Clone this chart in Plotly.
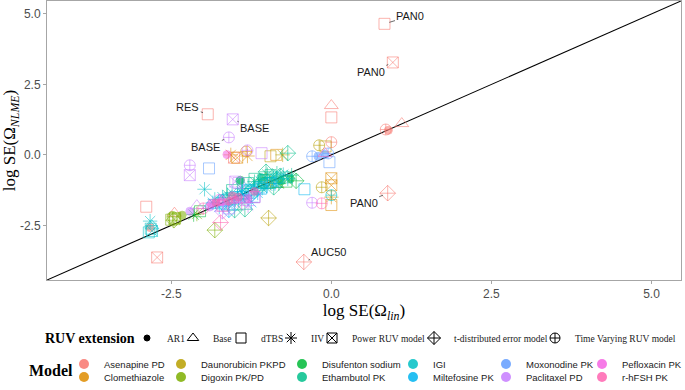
import plotly.graph_objects as go

# ---------------- data ----------------
models = ["Asenapine PD", "Clomethiazole", "Daunorubicin PKPD", "Digoxin PK/PD",
          "Disufenton sodium", "Ethambutol PK", "IGI", "Miltefosine PK",
          "Moxonodine PK", "Paclitaxel PD", "Pefloxacin PK", "r-hFSH PK"]
model_colors = ["#F8766D", "#DE8C00", "#B79F00", "#7CAE00", "#00BA38", "#00C08B",
                "#00BFC4", "#00B4F0", "#619CFF", "#C77CFF", "#F564E3", "#FF64B0"]
ruv_types = ["AR1", "Base", "dTBS", "IIV", "Power RUV model",
             "t-distributed error model", "Time Varying RUV model"]

# (RUV extension, log SE(Omega_lin), log SE(Omega_NLME))
asenapine_pd = [("dTBS", 0.83, 4.65), ("dTBS", -1.93, 1.44), ("dTBS", -2.89, -1.84), ("dTBS", 0.0, 1.33),
                ("Power RUV model", 0.96, 3.28), ("Power RUV model", -2.72, -3.64),
                ("Power RUV model", -1.52, -0.10),
                ("t-distributed error model", 0.88, -1.36), ("t-distributed error model", -0.43, -3.80),
                ("Base", 1.10, 1.11), ("Base", 0.0, 1.75), ("Base", -2.45, -2.07),
                ("Time Varying RUV model", 0.85, 0.90), ("Time Varying RUV model", 0.0, 0.45),
                ("AR1", 0.89, 0.87), ("AR1", -2.83, -2.58)]
clomethiazole = [("IIV", -1.57, 0.0), ("IIV", 0.0, -1.50), ("IIV", -1.31, -0.04),
                 ("Power RUV model", 0.0, -0.83), ("Power RUV model", 0.0, -1.08),
                 ("Power RUV model", -1.47, -0.10),
                 ("dTBS", 0.0, -1.78), ("dTBS", -0.86, 0.0),
                 ("Time Varying RUV model", -1.33, 0.12), ("Time Varying RUV model", -1.05, -1.00)]
daunorubicin_pkpd = [("Time Varying RUV model", -0.19, 0.34), ("Time Varying RUV model", -0.15, -1.15),
                     ("dTBS", -0.09, 0.30), ("dTBS", -0.95, -0.05),
                     ("IIV", -0.76, 0.0), ("IIV", -0.95, -1.00),
                     ("t-distributed error model", -0.98, -2.24), ("t-distributed error model", -1.02, -0.90),
                     ("Base", -0.85, -1.05)]
digoxin_pkpd = [("AR1", -2.33, -2.14), ("dTBS", -2.50, -2.30), ("dTBS", -2.44, -2.24),
                ("t-distributed error model", -1.82, -2.67), ("t-distributed error model", -2.46, -2.32),
                ("Time Varying RUV model", -2.48, -2.20), ("IIV", -2.10, -2.10),
                ("Power RUV model", -2.45, -2.28)]
disufenton_sodium = [("AR1", -0.64, -0.85), ("AR1", -1.42, -0.90), ("AR1", -0.78, -0.92),
                     ("dTBS", -2.05, -2.00), ("dTBS", -0.70, -0.95), ("dTBS", -1.00, -1.00),
                     ("IIV", -2.15, -2.12), ("IIV", -0.82, -1.02),
                     ("t-distributed error model", -0.55, -0.92)]
ethambutol_pk = [("t-distributed error model", -0.68, 0.06), ("t-distributed error model", -1.35, -1.93),
                 ("t-distributed error model", -1.51, -1.96), ("t-distributed error model", -0.80, -0.75),
                 ("t-distributed error model", -1.02, -0.60), ("t-distributed error model", -0.90, -1.15),
                 ("dTBS", -1.20, -0.85), ("dTBS", -1.05, -0.90), ("dTBS", -0.95, -0.72),
                 ("dTBS", -1.30, -1.00), ("dTBS", -0.85, -0.95), ("dTBS", -0.70, -0.80),
                 ("dTBS", -1.12, -1.08), ("dTBS", -1.55, -1.25),
                 ("IIV", -1.20, -0.95), ("IIV", -1.00, -0.70), ("IIV", -0.85, -0.65), ("IIV", -1.40, -1.20),
                 ("IIV", -1.62, -1.42), ("IIV", -0.62, -0.72),
                 ("AR1", -1.10, -0.80), ("AR1", -1.43, -0.92),
                 ("Time Varying RUV model", -1.05, -1.02), ("Base", -1.15, -1.05)]
igi = [("IIV", -1.98, -1.22), ("IIV", -1.70, -1.50), ("IIV", -1.55, -1.35), ("IIV", -1.40, -1.30),
       ("IIV", -1.30, -1.10), ("IIV", -1.20, -1.20), ("IIV", -1.10, -0.95), ("IIV", -1.00, -0.85),
       ("IIV", -0.90, -0.80), ("IIV", -0.75, -0.70), ("IIV", -1.50, -1.60), ("IIV", -1.35, -1.45),
       ("IIV", -2.83, -2.35), ("IIV", -1.82, -1.58), ("IIV", -1.08, -1.18), ("IIV", -0.68, -0.85),
       ("dTBS", -2.85, -2.75), ("dTBS", -2.82, -2.62), ("dTBS", -1.60, -1.55), ("dTBS", -1.25, -1.30),
       ("dTBS", -0.95, -1.00), ("dTBS", -1.72, -1.72),
       ("Time Varying RUV model", 0.0, -1.43), ("Time Varying RUV model", -1.45, -1.55),
       ("Base", -2.80, -2.52), ("Base", -1.70, -1.60),
       ("t-distributed error model", -1.15, -1.20), ("t-distributed error model", -0.85, -0.85),
       ("Power RUV model", -2.80, -2.70), ("Power RUV model", -1.38, -1.38)]
miltefosine_pk = [("IIV", -1.85, -1.70), ("IIV", -1.60, -1.75), ("IIV", -1.45, -1.60), ("IIV", -1.30, -1.55),
                  ("IIV", -1.15, -1.35), ("IIV", -1.00, -1.10), ("IIV", -1.75, -1.85),
                  ("IIV", -1.25, -1.68), ("IIV", -0.88, -1.02),
                  ("dTBS", -0.42, -1.22), ("dTBS", -1.50, -1.50), ("dTBS", -1.30, -1.25), ("dTBS", -1.10, -1.20),
                  ("dTBS", -1.68, -1.62),
                  ("t-distributed error model", -1.60, -1.95), ("t-distributed error model", -1.25, -1.40),
                  ("Base", -1.90, -1.80), ("Time Varying RUV model", -1.40, -1.45)]
moxonodine_pk = [("dTBS", -1.91, -0.48), ("dTBS", -0.03, -0.26), ("dTBS", -1.20, -1.50),
                 ("AR1", -0.21, -0.05), ("AR1", -0.10, 0.02),
                 ("Time Varying RUV model", -0.30, -0.05), ("Time Varying RUV model", -0.05, 0.05),
                 ("IIV", -1.60, -1.80)]
paclitaxel_pd = [("Power RUV model", -1.54, 1.26), ("Power RUV model", -2.21, -0.72),
                 ("Power RUV model", -1.50, -0.95),
                 ("Time Varying RUV model", -1.60, 0.62), ("Time Varying RUV model", -2.21, -0.37),
                 ("Time Varying RUV model", -1.31, 0.16), ("Time Varying RUV model", -0.30, -1.70),
                 ("dTBS", -1.09, 0.06), ("dTBS", -1.45, -1.00), ("dTBS", -1.60, -1.90),
                 ("AR1", -2.21, -2.00), ("AR1", -1.90, -1.85),
                 ("Base", -2.10, -1.80), ("Base", -1.35, -1.60),
                 ("IIV", -1.30, -1.80), ("t-distributed error model", -1.70, -2.00)]
pefloxacin_pk = [("AR1", -1.63, 0.01), ("AR1", -1.87, -1.72), ("AR1", -1.50, -1.60), ("AR1", -1.30, -1.55),
                 ("AR1", -1.72, -1.66),
                 ("Base", -1.70, -1.65), ("Time Varying RUV model", -1.75, -1.60),
                 ("IIV", -1.40, -1.70), ("dTBS", -1.20, -1.50)]
rhfsh_pk = [("t-distributed error model", -1.73, -2.40),
            ("AR1", -1.80, -1.70), ("AR1", -1.60, -1.65), ("AR1", -1.45, -1.50), ("AR1", -1.20, -1.30),
            ("AR1", -1.55, -1.45),
            ("Time Varying RUV model", -0.15, -1.72), ("Time Varying RUV model", -2.00, -1.90),
            ("dTBS", -1.70, -1.80), ("Base", -0.10, 0.05)]

model_points = [asenapine_pd, clomethiazole, daunorubicin_pkpd, digoxin_pkpd, disufenton_sodium,
                ethambutol_pk, igi, miltefosine_pk, moxonodine_pk, paclitaxel_pd, pefloxacin_pk, rhfsh_pk]

# identity line y = x across the axis range
identity_line = [-4.44, 5.46]

# labelled points
label_text = ["PAN0", "PAN0", "PAN0", "RES", "BASE", "BASE", "AUC50"]
label_x = [0.83, 0.96, 0.88, -1.93, -1.54, -1.60, -0.43]
label_y = [4.65, 3.28, -1.36, 1.44, 1.26, 0.62, -3.80]

x_ticks = [-2.5, 0.0, 2.5, 5.0]
y_ticks = [-2.5, 0.0, 2.5, 5.0]

# ---------------- style ----------------
W, H = 685, 390
ML, MR, MT, MB = 47, 4, 1, 110
PW, PH = W - ML - MR, H - MT - MB

symbols = {"AR1": "circle", "Base": "triangle-up-open", "dTBS": "square-open", "IIV": "asterisk-open",
           "Power RUV model": "square-x-open", "t-distributed error model": "diamond-cross-open",
           "Time Varying RUV model": "circle-cross-open"}
sizes = {"AR1": 8, "Base": 12, "dTBS": 11, "IIV": 12, "Power RUV model": 11,
         "t-distributed error model": 12, "Time Varying RUV model": 11}
legend_sizes = {"AR1": 6, "Base": 10, "dTBS": 10, "IIV": 10, "Power RUV model": 10,
                "t-distributed error model": 10, "Time Varying RUV model": 10}

def px_to_paper_x(px):
    return (px - ML) / PW

def px_to_paper_y(py):
    return (H - MB - py) / PH

fig = go.Figure()

# identity line
fig.add_trace(go.Scatter(x=identity_line, y=identity_line, mode="lines",
                         line=dict(color="black", width=1.1), showlegend=False, hoverinfo="skip"))

# data points
for name, color, pts in zip(models, model_colors, model_points):
    for ruv in ruv_types:
        sel = [p for p in pts if p[0] == ruv]
        if not sel:
            continue
        fig.add_trace(go.Scatter(
            x=[p[1] for p in sel], y=[p[2] for p in sel], mode="markers",
            marker=dict(symbol=symbols[ruv], size=sizes[ruv], color=color, opacity=0.55,
                        line=dict(width=1, color=color)),
            name=name, showlegend=False))

# plotly draws a legend symbol ~20px right of the legend's left edge
SYM_OFFSET = 20

# RUV legend entries (one legend each, laid out in a row)
ruv_sym_px = [147, 193, 241, 291, 332, 434, 555]
legend_layouts = {}
n_leg = 1
for ruv, sx in zip(ruv_types, ruv_sym_px):
    key = "legend" if n_leg == 1 else f"legend{n_leg}"
    fig.add_trace(go.Scatter(x=[None], y=[None], mode="markers", name=ruv, legend=key,
                             marker=dict(symbol=symbols[ruv], size=legend_sizes[ruv],
                                         color="black", line=dict(width=1, color="black"))))
    legend_layouts[key] = dict(x=px_to_paper_x(sx - SYM_OFFSET), xanchor="left", y=px_to_paper_y(338),
                               yanchor="middle", bgcolor="rgba(0,0,0,0)",
                               font=dict(family="Liberation Serif", size=9.5, color="#1a1a1a"))
    n_leg += 1

# Model legend entries (2 rows x 6 columns)
model_col_px = [84, 181, 302, 413, 506, 602]
model_row_px = [364, 377]
for i, (name, color) in enumerate(zip(models, model_colors)):
    key = f"legend{n_leg}"
    col, row = i // 2, i % 2
    fig.add_trace(go.Scatter(x=[None], y=[None], mode="markers", name=name, legend=key,
                             marker=dict(symbol="circle", size=10, color=color, opacity=0.85)))
    legend_layouts[key] = dict(x=px_to_paper_x(model_col_px[col] - SYM_OFFSET), xanchor="left",
                               y=px_to_paper_y(model_row_px[row]), yanchor="middle",
                               bgcolor="rgba(0,0,0,0)",
                               font=dict(family="Liberation Sans", size=9.5, color="#1a1a1a"))
    n_leg += 1

# labels with leader lines
label_offsets = [(26, -8), (-22, 10), (-24, 10), (-20, -7), (22, 9), (-23, 10), (25, -10)]
annotations = []
for t, x, y, (ax, ay) in zip(label_text, label_x, label_y, label_offsets):
    annotations.append(dict(x=x, y=y, text=t, showarrow=True, arrowhead=0, arrowwidth=0.8,
                            arrowcolor="#444444", ax=ax, ay=ay, standoff=5,
                            font=dict(family="Liberation Sans", size=11, color="#1a1a1a")))

# legend titles
annotations.append(dict(x=px_to_paper_x(43), y=px_to_paper_y(338), xref="paper", yref="paper",
                        xanchor="left", yanchor="middle", showarrow=False, text="<b>RUV extension</b>",
                        font=dict(family="Liberation Serif", size=14, color="black")))
annotations.append(dict(x=px_to_paper_x(27), y=px_to_paper_y(370), xref="paper", yref="paper",
                        xanchor="left", yanchor="middle", showarrow=False, text="<b>Model</b>",
                        font=dict(family="Liberation Serif", size=16, color="black")))

axis_common = dict(showgrid=False, zeroline=False, showline=True, mirror=True, linecolor="#a6a6a6",
                   linewidth=1, ticks="outside", ticklen=3, tickcolor="#a6a6a6",
                   tickfont=dict(family="Liberation Sans", size=12, color="#4d4d4d"))

fig.update_layout(
    width=W, height=H, margin=dict(l=ML, r=MR, t=MT, b=MB, autoexpand=False),
    paper_bgcolor="white", plot_bgcolor="white",
    xaxis=dict(range=[identity_line[0], identity_line[1]], tickvals=x_ticks,
               ticktext=[f"{v:.1f}" for v in x_ticks],
               title=dict(text="log SE(Ω<sub><i>lin</i></sub>)", standoff=0,
                          font=dict(family="Liberation Serif", size=17, color="black")),
               **axis_common),
    yaxis=dict(range=[identity_line[0], identity_line[1]], tickvals=y_ticks,
               ticktext=[f"{v:.1f}" for v in y_ticks],
               title=dict(text="log SE(Ω<sub><i>NLME</i></sub>)", standoff=4,
                          font=dict(family="Liberation Serif", size=17, color="black")),
               **axis_common),
    annotations=annotations,
    showlegend=True,
    **legend_layouts,
)

fig.write_html("out.html", config={"displayModeBar": False},
               post_script="document.body.style.margin='0px';document.body.style.overflow='hidden';")
